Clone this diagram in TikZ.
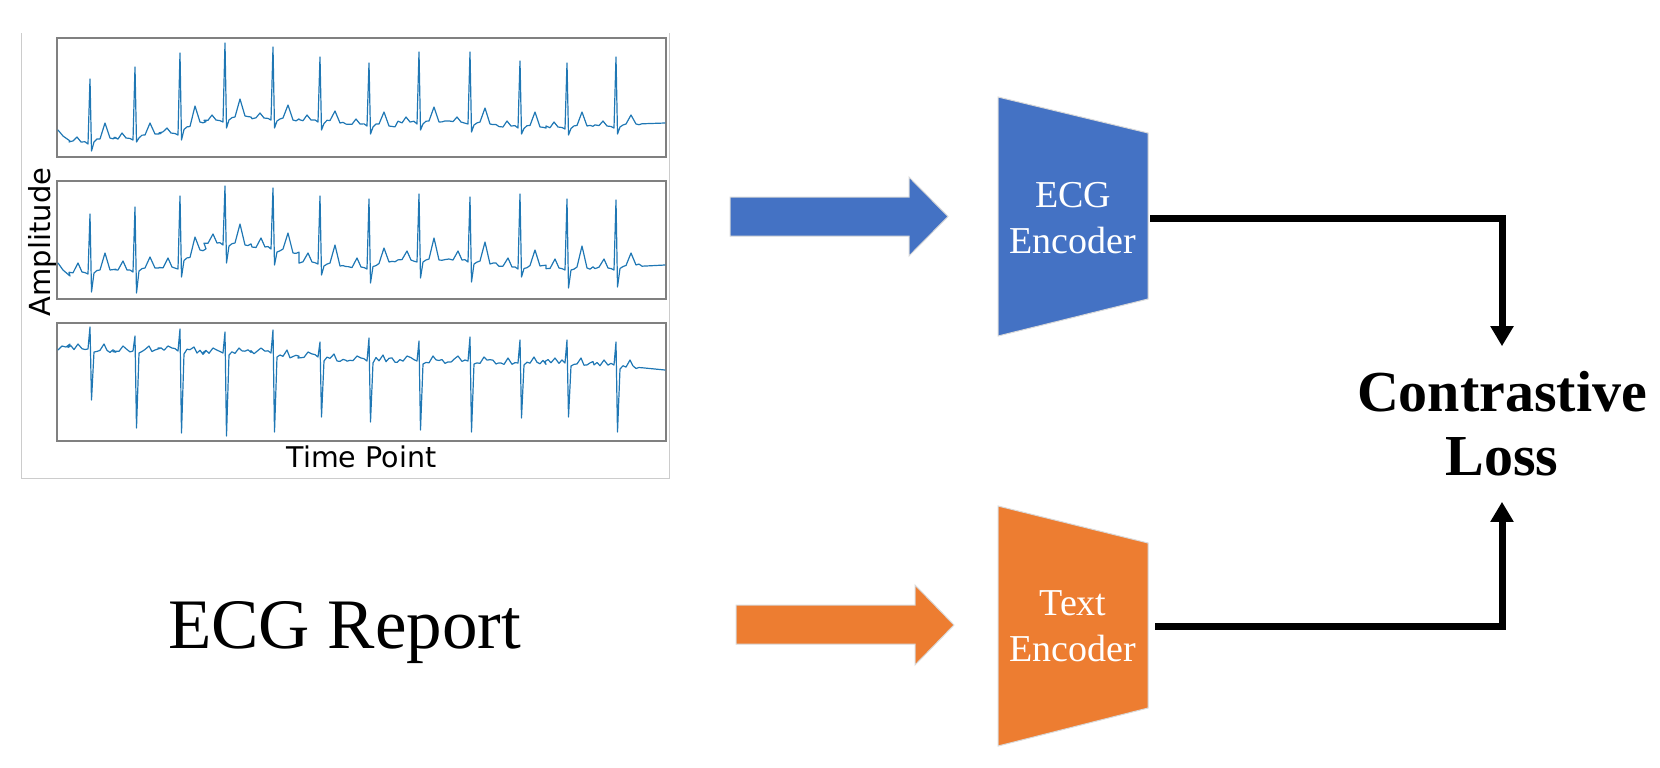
\documentclass[tikz,border=0pt]{standalone}
\usepackage{fontspec}
\setmainfont{Liberation Serif}
\newfontfamily\plotfont{DejaVu Sans}
\usetikzlibrary{arrows.meta}
\definecolor{encblue}{HTML}{4472C4}
\definecolor{encorange}{HTML}{ED7D31}
\definecolor{traceblue}{HTML}{1F77B4}

\begin{document}
\begin{tikzpicture}[x=0.5pt,y=-0.5pt,
  plotframe/.style={draw=black!50,line width=0.75pt},
  ecgtrace/.style={traceblue,line width=0.6pt,line join=round,line cap=round},
  blockarrow/.style={draw=black!15,line width=0.5pt},
  encbox/.style={minimum width=75pt,minimum height=120pt,inner sep=0pt,
    text=white,align=center,font=\fontsize{19}{23}\selectfont},
  losstext/.style={align=center,inner xsep=0pt,inner ysep=12.5pt,
    font=\fontsize{29}{32}\selectfont\bfseries},
  lossarrow/.style={line width=3.5pt,-{Triangle[length=10pt,width=11pt]}}]
\useasboundingbox (0,0) rectangle (1660,767);
\pgfmathsetseed{5}

% ECG plot: figure edge and three leads
\draw[black!20,line width=0.5pt] (21,33) -- (21,478) -- (669,478) -- (669,33);
\draw[plotframe] (57,38) rectangle (666,157);
\draw[plotframe] (57,181) rectangle (666,299);
\draw[plotframe] (57,323) rectangle (666,441);

% lead 1
\draw[ecgtrace] (58,130) -- (63,136) -- (70,141)
  foreach \r/\a/\b/\h/\s/\t in {90/142/138/79/151/123, 135/138/134/67/142/123,
    180/133/122/53/140/106, 225/120/116/43/128/99, 273/118/120/47/128/105,
    320/120/123/57/130/111, 369/124/126/63/134/112, 419/122/122/52/130/107,
    470/122/124/52/132/108, 520/126/127/61/134/112, 567/127/126/63/135/112,
    616/126/124/57/134/115}
  { -- (\r-21,{\a+1.2*rand}) -- (\r-17,{\a+1.2*rand}) -- (\r-13,\a-5) -- (\r-9,\a)
    -- (\r-5,{\a+1.2*rand}) -- (\r-2,\a+2) -- (\r,\h) -- (\r+1.5,\s)
    -- (\r+4,{(\a+\b)/2+2}) -- (\r+7,{(\a+\b)/2+1.2*rand}) -- (\r+10,{(\a+\b)/2-1})
    -- (\r+15,\t) -- (\r+20,\b) -- (\r+23,{\b+1.2*rand}) -- (\r+26,{\b+1.2*rand}) }
  -- (665,123);

% lead 2
\draw[ecgtrace] (58,263) -- (63,270) -- (70,276)
  foreach \r/\a/\b/\h/\s/\t in {90/272/270/214/292/253, 135/270/268/207/293/257,
    180/267/250/196/277/237, 225/243/245/186/263/224, 273/247/253/188/265/233,
    320/262/266/196/275/245, 369/267/262/199/283/248, 419/260/260/194/278/238,
    470/260/264/197/282/242, 520/267/266/194/277/250, 567/268/268/199/288/246,
    616/268/265/200/287/253}
  { -- (\r-21,{\a+1.2*rand}) -- (\r-17,{\a+1.2*rand}) -- (\r-12,\a-9) -- (\r-8,\a)
    -- (\r-5,{\a+1.2*rand}) -- (\r-2,\a+2) -- (\r,\h) -- (\r+1.5,\s)
    -- (\r+4,{(\a+\b)/2+2}) -- (\r+7,{(\a+\b)/2+1.2*rand}) -- (\r+10,{(\a+\b)/2-1})
    -- (\r+15,\t) -- (\r+20,\b) -- (\r+23,{\b+1.2*rand}) -- (\r+26,{\b+1.2*rand}) }
  -- (665,265);

% lead 3
\draw[ecgtrace] (58,350) -- (62,346) -- (66,347) -- (70,344)
  foreach \r/\a/\b/\h/\s/\t in {90/348/350/327/400/344, 135/350/350/336/428/346,
    180/350/352/329/433/347, 225/352/352/332/436/348, 273/352/356/330/432/350,
    320/356/360/342/417/354, 369/360/360/338/422/355, 419/360/362/341/430/356,
    470/360/362/337/432/357, 520/362/362/340/418/357, 567/362/364/340/417/358,
    616/364/368/342/432/360}
  { -- (\r-22,{\a+2.5*rand}) -- (\r-19,{\a+2.5*rand}) -- (\r-16,{\a+2.5*rand})
    -- (\r-12,\a-4) -- (\r-8,{\a+2.5*rand}) -- (\r-5,{\a+2.5*rand}) -- (\r-2,\a+1)
    -- (\r,\h) -- (\r+1.5,\s) -- (\r+4,{(\a+\b)/2+3}) -- (\r+7,{(\a+\b)/2+2.5*rand})
    -- (\r+10,{(\a+\b)/2+2.5*rand}) -- (\r+14,\t) -- (\r+17,{\b+2.5*rand})
    -- (\r+20,{\b+2.5*rand}) -- (\r+23,{\b+2.5*rand}) -- (\r+26,{\b+2.5*rand}) }
  -- (665,370);

\node[rotate=90,anchor=base,font=\plotfont\fontsize{14.5}{16}\selectfont] (amp) at (50,242) {Amplitude};
\node[anchor=base,font=\plotfont\fontsize{14.25}{16}\selectfont] (timept) at (361.5,467) {Time Point};

% text input
\node[anchor=base,font=\fontsize{35.5}{40}\selectfont] (report) at (344.5,648) {ECG Report};

% block arrows into the encoders
\filldraw[fill=encblue,blockarrow] (730,197) -- (909,197) -- (909,177) -- (948,216.5)
  -- (909,256) -- (909,236) -- (730,236) -- cycle;
\filldraw[fill=encorange,blockarrow] (736,605) -- (915,605) -- (915,585) -- (954,625)
  -- (915,665) -- (915,644) -- (736,644) -- cycle;

% encoders
\filldraw[fill=encblue,blockarrow] (998,97) -- (1148,133) -- (1148,299) -- (998,336) -- cycle;
\node[encbox] (ecgenc) at (1073,218) {ECG\\Encoder};
\filldraw[fill=encorange,blockarrow] (998,506) -- (1148,543) -- (1148,708) -- (998,746) -- cycle;
\node[encbox] (txtenc) at (1073,626) {Text\\Encoder};

% loss
\node[losstext] (loss) at (1502,424) {Contrastive\\Loss};
\draw[lossarrow,shorten <=1pt] (ecgenc.east) -| (loss.north);
\draw[lossarrow,shorten <=3.5pt] (txtenc.east) -| (loss.south);

\end{tikzpicture}
\end{document}
